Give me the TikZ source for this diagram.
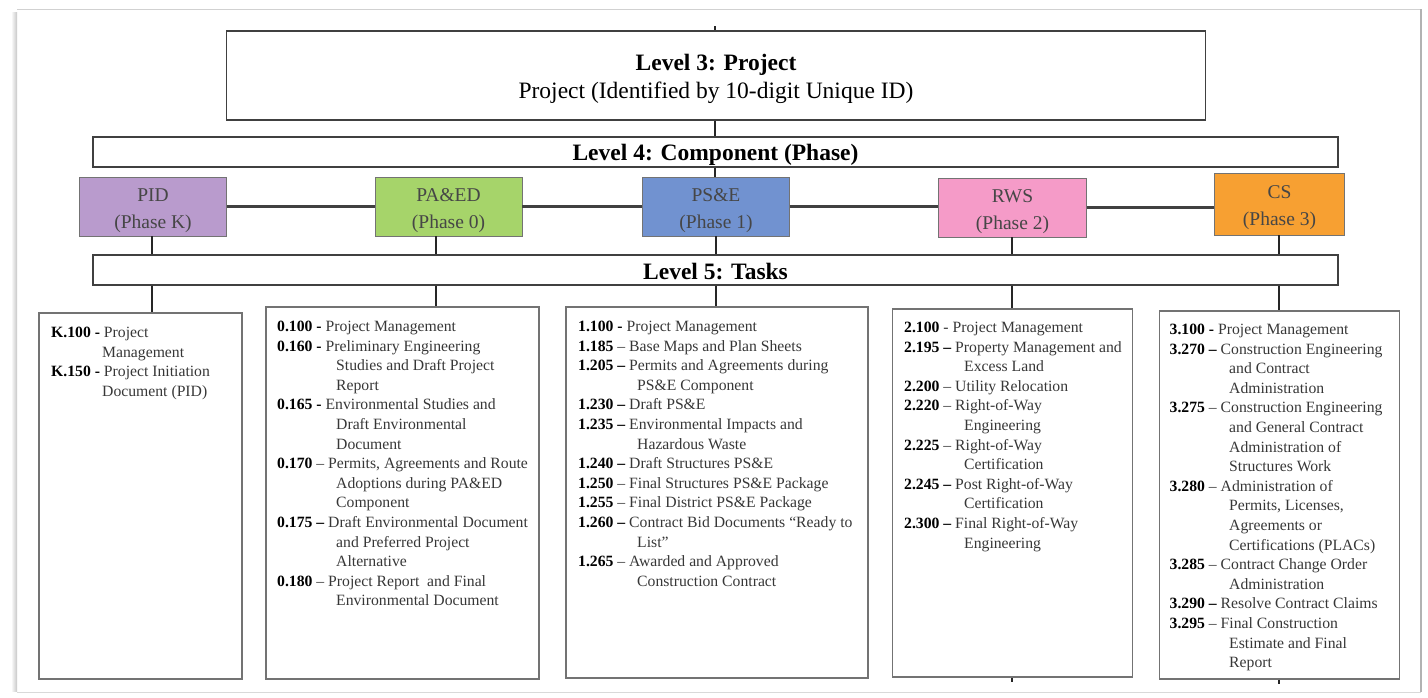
\documentclass[tikz,border=0pt]{standalone}
\usepackage{fontspec}
\setmainfont{Liberation Serif}
\usetikzlibrary{calc}

\definecolor{phK}{RGB}{185,155,205}
\definecolor{phZ}{RGB}{166,212,106}
\definecolor{phA}{RGB}{113,146,208}
\definecolor{phB}{RGB}{245,155,200}
\definecolor{phC}{RGB}{247,160,50}
\definecolor{phtext}{RGB}{70,70,70}
\definecolor{tasktext}{RGB}{55,55,55}

% task list helpers: bold code with its dash, and the hanging indent of wrapped lines
\newlength\contind
\newcommand\tc[2]{\textbf{\textcolor{black}{#1}}~#2~}
\newcommand\tcb[2]{\textbf{\textcolor{black}{#1~#2}}~}
\newcommand\ct{\hspace*{\contind}}

\begin{document}
\begin{tikzpicture}[x=1pt,y=-1pt,
  lvl/.style={draw=black!75, line width=1.4pt, inner sep=0pt, fill=white},
  lvltext/.style={inner sep=0pt, font=\fontsize{23.5}{29}\selectfont\bfseries, align=center},
  phase/.style={draw=black!55, line width=0.9pt, inner sep=0pt},
  phtxt/.style={inner sep=0pt, font=\fontsize{19.5}{27}\selectfont, text=phtext, align=center},
  taskbox/.style={draw=black!55, line width=1.5pt, inner sep=0pt},
  taskbody/.style={anchor=base west, inner sep=0pt,
    font=\fontsize{15.7}{19.6}\selectfont, text=tasktext},
  link/.style={draw=black!85, line width=1.7pt},
  bus/.style={draw=black!75, line width=3pt}]

\useasboundingbox (0,0) rectangle (1428,697);

% page frame with a soft shadow on the left
\shade[left color=white, right color=black!22] (11,12) rectangle (17,691);
\draw[black!18, line width=1pt] (17,9) -- (1421,9);
\draw[black!30, line width=1.6pt] (1421,9) -- (1421,692);
\draw[black!15, line width=1pt] (17,692) -- (1421,692);

% level boxes
\node[lvl, minimum width=979, minimum height=89] (L3) at (716,75.5) {};
\node[lvltext] (L3t) at ($(L3)+(0,3.5)$)
  {Level 3: Project\\[-1pt]{\mdseries Project (Identified by 10-digit Unique ID)}};
\node[lvl, minimum width=1245, minimum height=30] (L4) at (715.5,152) {};
\node[lvltext] (L4t) at ($(L4)+(0,2.5)$) {Level 4: Component (Phase)};
\node[lvl, minimum width=1245, minimum height=30] (L5) at (715.5,270) {};
\node[lvltext] (L5t) at ($(L5)+(0,2)$) {Level 5: Tasks};

% phase boxes
\node[phase, fill=phK, minimum width=147, minimum height=59] (pK) at (153,206.5) {};
\node[phase, fill=phZ, minimum width=147, minimum height=59] (p0) at (448.5,206.5) {};
\node[phase, fill=phA, minimum width=147, minimum height=59] (p1) at (716,206.5) {};
\node[phase, fill=phB, minimum width=148, minimum height=59] (p2) at (1012.5,207.5) {};
\node[phase, fill=phC, minimum width=130, minimum height=62] (p3) at (1279.5,204) {};
\node[phtxt] (pKt) at ($(pK)+(0,4)$) {PID\\(Phase K)};
\node[phtxt] (p0t) at ($(p0)+(0,4)$) {PA\&ED\\(Phase 0)};
\node[phtxt] (p1t) at ($(p1)+(0,4)$) {PS\&E\\(Phase 1)};
\node[phtxt] (p2t) at ($(p2)+(0,4)$) {RWS\\(Phase 2)};
\node[phtxt] (p3t) at ($(p3)+(0,3.5)$) {CS\\(Phase 3)};

% task boxes
\node[taskbox, minimum width=203, minimum height=366] (tK) at (140.5,496) {};
\node[taskbox, minimum width=273, minimum height=372] (t0) at (402.5,493) {};
\node[taskbox, minimum width=302, minimum height=371] (t1) at (717,492.5) {};
\node[taskbox, minimum width=240, minimum height=368] (t2) at (1012.5,493) {};
\node[taskbox, minimum width=240, minimum height=368] (t3) at (1279.5,495) {};

% connectors
\coordinate (top) at (715,26);
\coordinate (dK) at (152,0);
\coordinate (d0) at (436,0);
\coordinate (d1) at (716,0);
\coordinate (d2) at (1012,0);
\coordinate (d3) at (1279,0);

\draw[link] (top) -- (top |- L3.north);
\draw[link] (top |- L3.south) -- (top |- L4.north);
\draw[link] (top |- L4.south) -- (top |- p1.north);

\draw[bus] (pK.east) -- (pK.east -| p0.west);
\draw[bus] (p0.east) -- (p0.east -| p1.west);
\draw[bus] (p1.east) -- (p1.east -| p2.west);
\draw[bus, line width=3.6pt] (p2.east) -- (p2.east -| p3.west);

\foreach \d/\p/\t in {dK/pK/tK, d0/p0/t0, d1/p1/t1, d2/p2/t2, d3/p3/t3} {
  \draw[link] (\d |- \p.south) -- (\d |- L5.north);
  \draw[link] (\d |- L5.south) -- (\d |- \t.north);
}
\draw[link] (d2 |- t2.south) -- ++(0,4);
\draw[link] (d3 |- t3.south) -- ++(0,4);

% task lists
\node[taskbody] (xK) at (51,337.5) {\parbox[t]{190pt}{\raggedright\setlength\contind{51pt}%
\tcb{K.100}{-}Project\\
\ct Management\\
\tcb{K.150}{-}Project Initiation\\
\ct Document (PID)}};

\node[taskbody] (x0) at (277,331.5) {\parbox[t]{260pt}{\raggedright\setlength\contind{59pt}%
\tcb{0.100}{-}Project Management\\
\tcb{0.160}{-}Preliminary Engineering\\
\ct Studies and Draft Project\\
\ct Report\\
\tcb{0.165}{-}Environmental Studies and\\
\ct Draft Environmental\\
\ct Document\\
\tc{0.170}{--}Permits, Agreements and Route\\
\ct Adoptions during PA\&ED\\
\ct Component\\
\tcb{0.175}{--}Draft Environmental Document\\
\ct and Preferred Project\\
\ct Alternative\\
\tc{0.180}{--}Project Report \ and Final\\
\ct Environmental Document}};

\node[taskbody] (x1) at (578,331.5) {\parbox[t]{290pt}{\raggedright\setlength\contind{59pt}%
\tcb{1.100}{-}Project Management\\
\tc{1.185}{--}Base Maps and Plan Sheets\\
\tcb{1.205}{--}Permits and Agreements during\\
\ct PS\&E Component\\
\tcb{1.230}{--}Draft PS\&E\\
\tcb{1.235}{--}Environmental Impacts and\\
\ct Hazardous Waste\\
\tcb{1.240}{--}Draft Structures PS\&E\\
\tc{1.250}{--}Final Structures PS\&E Package\\
\tc{1.255}{--}Final District PS\&E Package\\
\tcb{1.260}{--}Contract Bid Documents “Ready to\\
\ct List”\\
\tc{1.265}{--}Awarded and Approved\\
\ct Construction Contract}};

\node[taskbody] (x2) at (904,332.5) {\parbox[t]{230pt}{\raggedright\setlength\contind{60pt}%
\tc{2.100}{-}Project Management\\
\tcb{2.195}{--}Property Management and\\
\ct Excess Land\\
\tc{2.200}{--}Utility Relocation\\
\tc{2.220}{--}Right-of-Way\\
\ct Engineering\\
\tc{2.225}{--}Right-of-Way\\
\ct Certification\\
\tcb{2.245}{--}Post Right-of-Way\\
\ct Certification\\
\tcb{2.300}{--}Final Right-of-Way\\
\ct Engineering}};

\node[taskbody] (x3) at (1169.5,334.5) {\parbox[t]{230pt}{\raggedright\setlength\contind{59.5pt}%
\tcb{3.100}{-}Project Management\\
\tcb{3.270}{--}Construction Engineering\\
\ct and Contract\\
\ct Administration\\
\tc{3.275}{--}Construction Engineering\\
\ct and General Contract\\
\ct Administration of\\
\ct Structures Work\\
\tc{3.280}{--}Administration of\\
\ct Permits, Licenses,\\
\ct Agreements or\\
\ct Certifications (PLACs)\\
\tc{3.285}{--}Contract Change Order\\
\ct Administration\\
\tcb{3.290}{--}Resolve Contract Claims\\
\tc{3.295}{--}Final Construction\\
\ct Estimate and Final\\
\ct Report}};

\end{tikzpicture}
\end{document}
